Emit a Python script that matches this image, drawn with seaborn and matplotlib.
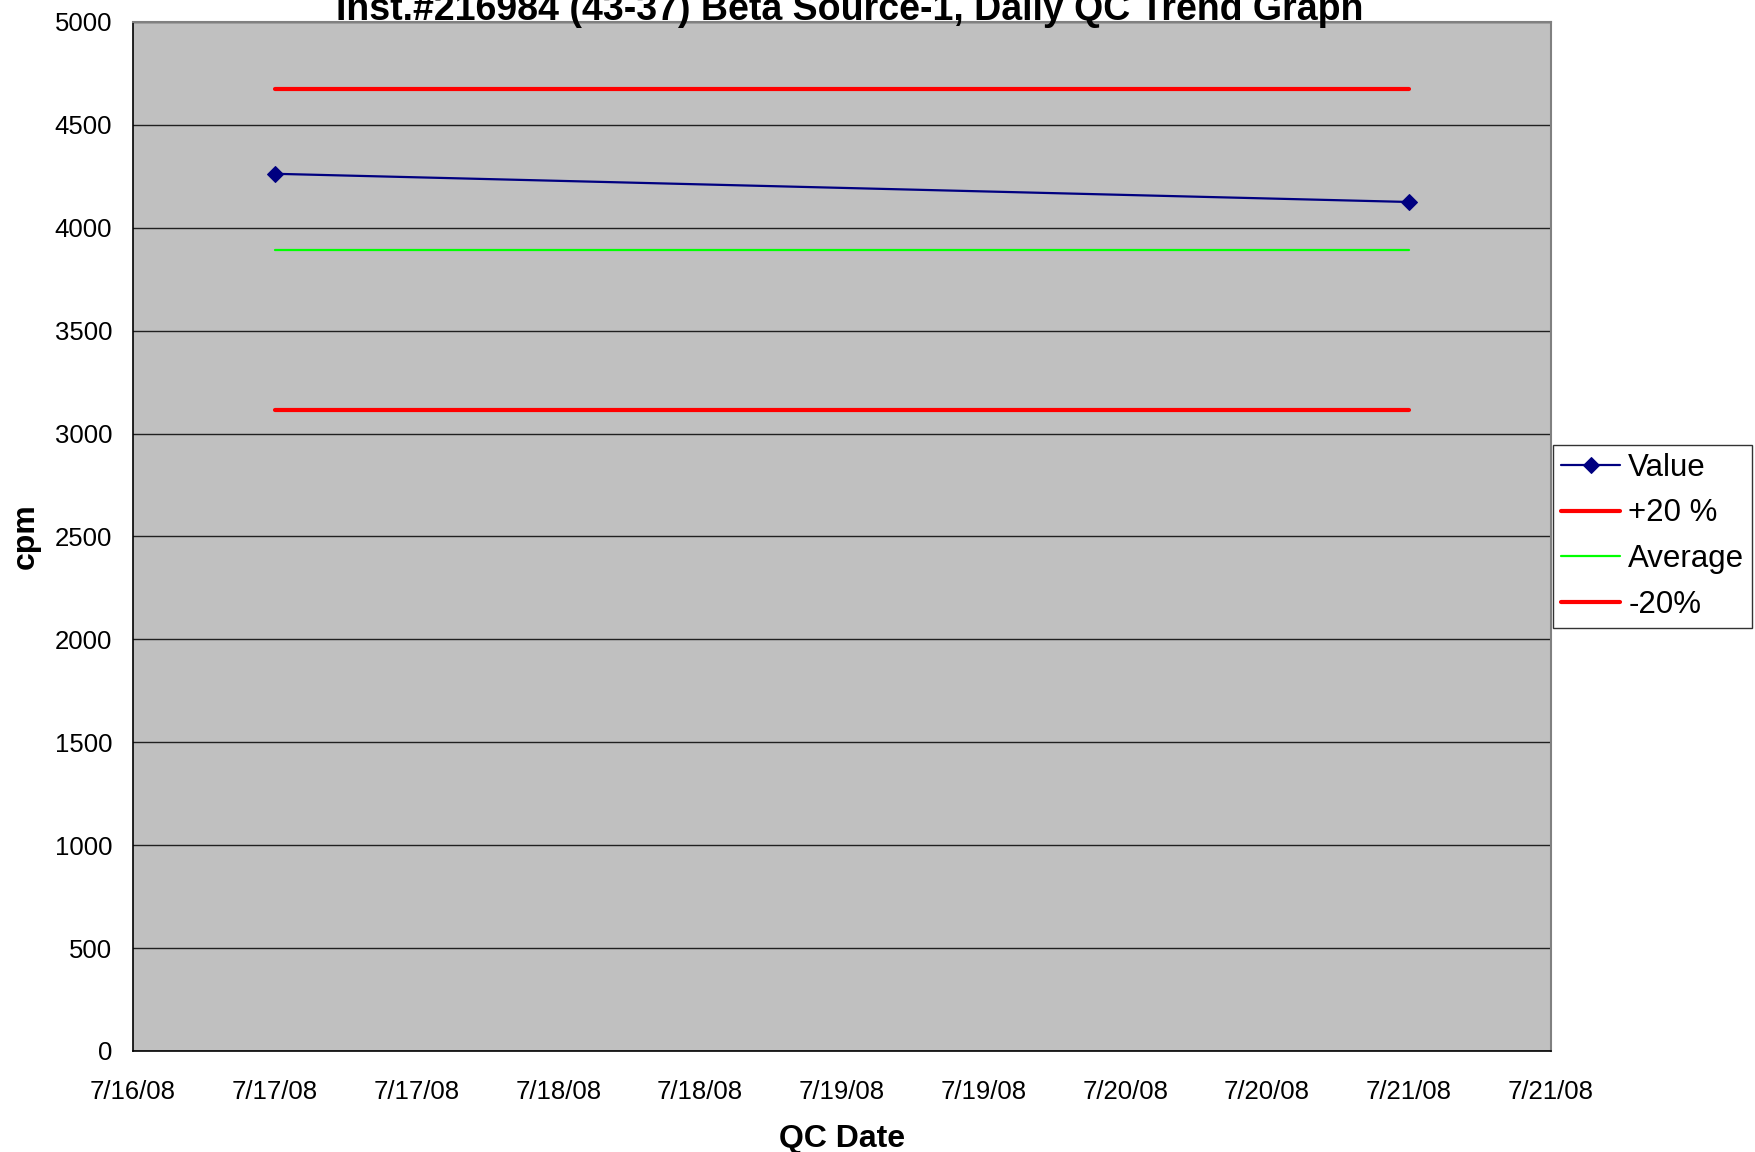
import pandas as pd
import seaborn as sns
import matplotlib.pyplot as plt
import matplotlib.dates as mdates
import matplotlib.ticker as ticker

##### Data

qc_dates = ['2008-07-17', '2008-07-21']
value = [4262, 4125]
plus_20 = [4673, 4673]
average = [3894, 3894]
minus_20 = [3115, 3115]

x_start = '2008-07-16 12:00'
x_end = '2008-07-21 12:00'

dataset = pd.DataFrame({'QC Date': pd.to_datetime(qc_dates),
                        'Value': value,
                        '+20 %': plus_20,
                        'Average': average,
                        '-20%': minus_20})

##### Plot

sns.set_style('white')
plt.rcParams['font.family'] = ['Liberation Sans', 'DejaVu Sans']
plt.rcParams['text.color'] = 'black'
plt.rcParams['axes.labelcolor'] = 'black'
plt.rcParams['xtick.color'] = 'black'
plt.rcParams['ytick.color'] = 'black'

fig = plt.figure(figsize=(17.56, 11.52), dpi=100)
ax = fig.add_axes([0.0757, 0.0877, 0.8073, 0.8933])
ax.set_facecolor('#C0C0C0')

sns.lineplot(x='QC Date', y='Value', data=dataset, ax=ax, color='#000080',
             lw=1.6, marker='D', markersize=8.5, markeredgecolor='#000080',
             label='Value')
sns.lineplot(x='QC Date', y='+20 %', data=dataset, ax=ax, color='#FF0000',
             lw=3, label='+20 %')
sns.lineplot(x='QC Date', y='Average', data=dataset, ax=ax, color='#00FF00',
             lw=1.6, label='Average')
sns.lineplot(x='QC Date', y='-20%', data=dataset, ax=ax, color='#FF0000',
             lw=3, label='-20%')

# y axis
ax.set_ylim(0, 5000)
ax.yaxis.set_major_locator(ticker.MultipleLocator(500))
ax.grid(axis='y', color='#202020', lw=1)
ax.set_axisbelow(True)

# x axis, ticks every half day like excel does
ax.set_xlim(pd.Timestamp(x_start), pd.Timestamp(x_end))
ax.set_xticks(pd.date_range(x_start, x_end, freq='12h'))
ax.xaxis.set_major_formatter(ticker.FuncFormatter(
    lambda v, pos: '{d.month}/{d.day}/{d:%y}'.format(d=mdates.num2date(v))))

ax.tick_params(axis='both', direction='out', length=7, width=1,
               color='black', labelsize=18.5, pad=8)
ax.tick_params(axis='x', pad=14)

for side in ['left', 'bottom']:
    ax.spines[side].set_color('black')
    ax.spines[side].set_linewidth(1.2)
for side in ['top', 'right']:
    ax.spines[side].set_color('#808080')
    ax.spines[side].set_linewidth(1.5)

ax.set_xlabel('QC Date', fontsize=23, fontweight='bold', labelpad=14)
ax.set_ylabel('cpm', fontsize=23, fontweight='bold', labelpad=10)

# title sits partly above the top edge, as in the reference
fig.text(0.4838, 0.9826,
         'Inst.#216984 (43-37) Beta Source-1, Daily QC Trend Graph',
         fontsize=27, fontweight='bold', ha='center', va='baseline')

leg = ax.legend(loc='upper left', bbox_to_anchor=(0.8845, 0.6137),
                bbox_transform=fig.transFigure, fontsize=22.5, frameon=True,
                fancybox=False, edgecolor='black', borderaxespad=0,
                handlelength=1.9, handletextpad=0.25, labelspacing=0.5,
                borderpad=0.25)
leg.get_frame().set_linewidth(1)

plt.savefig('out.png', dpi=100)
